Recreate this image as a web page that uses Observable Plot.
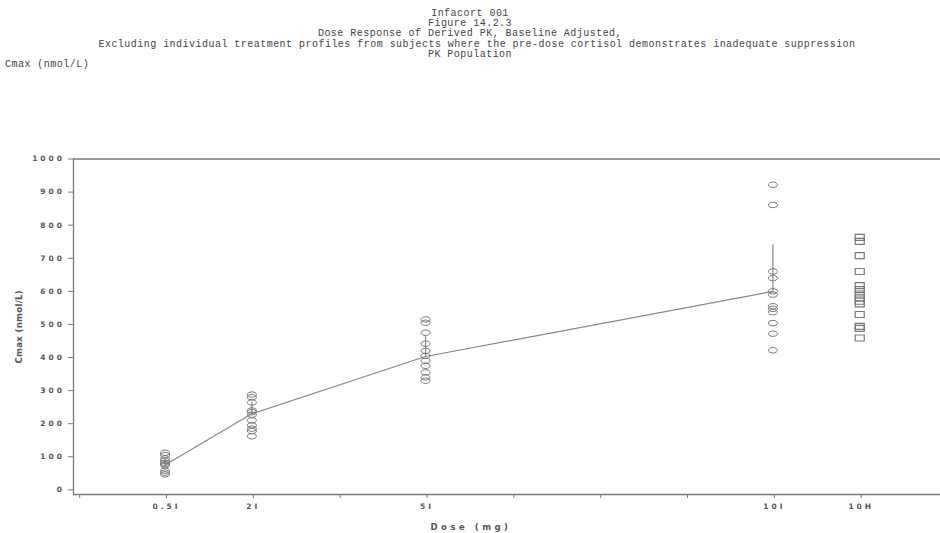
<!DOCTYPE html>
<html>
<head>
<meta charset="utf-8">
<script src="https://cdn.jsdelivr.net/npm/d3@7"></script>
<script src="https://cdn.jsdelivr.net/npm/@observablehq/plot@0.6"></script>
<style>
  html, body { margin: 0; padding: 0; background: #fff; }
  #title {
    height: 70px; box-sizing: border-box; padding-top: 9px;
    font-family: "Liberation Mono", "DejaVu Sans Mono", monospace;
    font-size: 10px; line-height: 10.2px; letter-spacing: 0.47px; color: #444;
  }
  #title .c { text-align: center; }
  #title .c.shift { padding-left: 14px; }
  #title .l { padding-left: 5px; }
  [aria-label="y-axis tick label"] text,
  [aria-label="x-axis tick label"] text { letter-spacing: 3px; }
  .xlab text { letter-spacing: 3.5px; }
  .ylab text {
    font-family: "DejaVu Sans Condensed", "DejaVu Sans", sans-serif;
    letter-spacing: 0.3px;
  }
</style>
</head>
<body>
<div id="title">
  <div class="c">Infacort 001</div>
  <div class="c">Figure 14.2.3</div>
  <div class="c">Dose Response of Derived PK, Baseline Adjusted,</div>
  <div class="c shift">Excluding individual treatment profiles from subjects where the pre-dose cortisol demonstrates inadequate suppression</div>
  <div class="c">PK Population</div>
  <div class="l">Cmax (nmol/L)</div>
</div>
<div id="chart"></div>
<script>
// ---- data ----
const doseLabels = ["0.5I", "2I", "5I", "10I", "10H"];
const dosePos = [1, 2, 4, 8, 9];
const vals05 = [112, 105, 95, 88, 82, 78, 74, 58, 52, 47];
const vals2 = [288, 280, 264, 240, 235, 227, 210, 195, 185, 178, 162];
const vals5 = [515, 505, 475, 442, 420, 405, 390, 375, 355, 340, 330];
const vals10 = [922, 861, 660, 640, 600, 590, 555, 547, 537, 504, 472, 422];
const vals10H = [763, 751, 708, 660, 617, 605, 592, 580, 570, 562, 530, 494, 488, 459];
const meanDose = ["0.5I", "2I", "5I", "10I"];
const meanVals = [75, 230, 403, 600];
const upperVals = [92, 265, 465, 740];
const yTicks = [0, 100, 200, 300, 400, 500, 600, 700, 800, 900, 1000];
const xTicks = [0, 1, 2, 3, 4, 5, 6, 7, 8, 9];
const xLabel = "Dose (mg)";
const yLabel = "Cmax (nmol/L)";

// ---- build tables ----
const posOf = Object.fromEntries(doseLabels.map((d, i) => [d, dosePos[i]]));
const circles = [];
[["0.5I", vals05], ["2I", vals2], ["5I", vals5], ["10I", vals10]].forEach(([d, arr]) =>
  arr.forEach(v => circles.push({x: posOf[d], y: v})));
const squares = vals10H.map(v => ({x: posOf["10H"], y: v}));
const means = meanDose.map((d, i) => ({x: posOf[d], y: meanVals[i], y2: upperVals[i]}));

const ellipse = {
  draw(ctx) {
    const rx = 4.6, ry = 2.7, k = 0.5523;
    ctx.moveTo(rx, 0);
    ctx.bezierCurveTo(rx, k * ry, k * rx, ry, 0, ry);
    ctx.bezierCurveTo(-k * rx, ry, -rx, k * ry, -rx, 0);
    ctx.bezierCurveTo(-rx, -k * ry, -k * rx, -ry, 0, -ry);
    ctx.bezierCurveTo(k * rx, -ry, rx, -k * ry, rx, 0);
    ctx.closePath();
  }
};
const rectSym = {
  draw(ctx) { ctx.rect(-4.5, -3, 9, 6); }
};

const xDomain = [-0.054, 9.93];
const yDomain = [-14, 1000];
const grey = "#7a7a7a";

const chart = Plot.plot({
  width: 940,
  height: 463,
  marginTop: 88.5,
  marginBottom: 39,
  marginLeft: 73,
  marginRight: 0,
  style: {fontFamily: "DejaVu Sans, sans-serif", fontSize: "7.5px", fontWeight: "bold", color: "#555", background: "#fff"},
  x: {domain: xDomain},
  y: {domain: yDomain},
  marks: [
    Plot.ruleY([yDomain[1]], {stroke: grey, strokeWidth: 1.3}),
    Plot.ruleY([yDomain[0]], {stroke: grey, strokeWidth: 1.3}),
    Plot.ruleX([xDomain[0]], {stroke: grey, strokeWidth: 1.3}),
    Plot.axisY({ticks: yTicks, tickSize: 5, tickPadding: 3.5, stroke: grey, tickFormat: d => String(d), label: null}),
    Plot.axisX({ticks: xTicks, tickSize: 4, tickPadding: 5, stroke: grey, dx: 1.5,
      tickFormat: t => { const i = dosePos.indexOf(t); return i >= 0 ? doseLabels[i] : ""; },
      label: null}),
    Plot.text([xLabel], {frameAnchor: "bottom", text: d => d, dy: 35, dx: -36, fontSize: 8.5, fill: "#555", className: "xlab"}),
    Plot.text([yLabel], {frameAnchor: "left", textAnchor: "middle", text: d => d, dx: -55, dy: 0, rotate: -90, fontSize: 9.5, fill: "#555", className: "ylab"}),
    Plot.ruleX(means, {x: "x", y1: "y", y2: "y2", stroke: "#888", strokeWidth: 1.2}),
    Plot.line(means, {x: "x", y: "y", stroke: "#888", strokeWidth: 1.2}),
    Plot.dot(circles, {x: "x", y: "y", symbol: ellipse, r: 4, stroke: "#777", strokeWidth: 1, fill: "none"}),
    Plot.dot(squares, {x: "x", y: "y", symbol: rectSym, r: 4, stroke: "#777", strokeWidth: 1.2, fill: "none"})
  ]
});
document.getElementById("chart").appendChild(chart);
</script>
</body>
</html>
